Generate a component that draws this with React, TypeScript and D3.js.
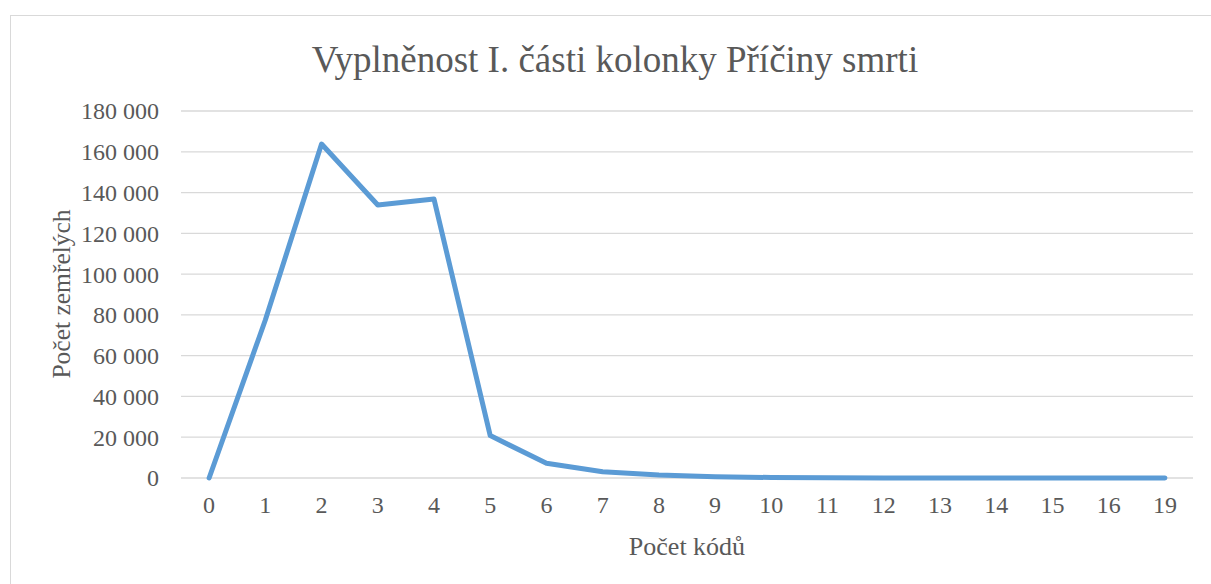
import React from "react";
import * as d3 from "d3";

const categories = ["0","1","2","3","4","5","6","7","8","9","10","11","12","13","14","15","16","19"];
const values = [0, 77500, 163800, 133900, 136800, 20800, 7200, 3100, 1500, 600, 250, 120, 60, 30, 15, 8, 4, 2];
const yTicks = [0, 20000, 40000, 60000, 80000, 100000, 120000, 140000, 160000, 180000];
const title = "Vyplněnost I. části kolonky Příčiny smrti";
const yTitle = "Počet zemřelých";
const xTitle = "Počet kódů";

const W = 1211, H = 584;
const left = 181, right = 1193, top = 111, bottom = 478;
const font = "'Liberation Serif', 'Times New Roman', serif";
const txt = "#595959";

export default function App() {
  const x = d3.scaleBand<string>().domain(categories).range([left, right]);
  const y = d3.scaleLinear().domain([0, 180000]).range([bottom, top]);
  const fmt = (v: number) => d3.format(",")(v).replace(/,/g, " ");
  const line = d3.line<number>()
    .x((_, i) => (x(categories[i]) as number) + x.bandwidth() / 2)
    .y((d) => y(d));
  return (
    <svg width={W} height={H} style={{ position: "absolute", left: 0, top: 0, background: "#fff" }}>
      <rect x={10.5} y={15.5} width={W + 10} height={H + 10} fill="#fff" stroke="#d9d9d9" strokeWidth={1} />
      <text x={615} y={72} textAnchor="middle" fontFamily={font} fontSize={37} fill={txt}>{title}</text>
      {yTicks.map((t) => (
        <g key={t}>
          <line x1={left} x2={right} y1={y(t)} y2={y(t)} stroke="#d9d9d9" strokeWidth={1.3} />
          <text x={159} y={y(t)} dy="0.35em" textAnchor="end" fontFamily={font} fontSize={24} fill={txt}>{fmt(t)}</text>
        </g>
      ))}
      {categories.map((c) => (
        <text key={c} x={(x(c) as number) + x.bandwidth() / 2} y={513} textAnchor="middle" fontFamily={font} fontSize={24} fill={txt}>{c}</text>
      ))}
      <path d={line(values) || ""} fill="none" stroke="#5b9bd5" strokeWidth={5} strokeLinejoin="round" strokeLinecap="round" />
      <text transform={`translate(70,294) rotate(-90)`} textAnchor="middle" fontFamily={font} fontSize={25.5} fill={txt}>{yTitle}</text>
      <text x={687} y={555} textAnchor="middle" fontFamily={font} fontSize={26} fill={txt}>{xTitle}</text>
    </svg>
  );
}
